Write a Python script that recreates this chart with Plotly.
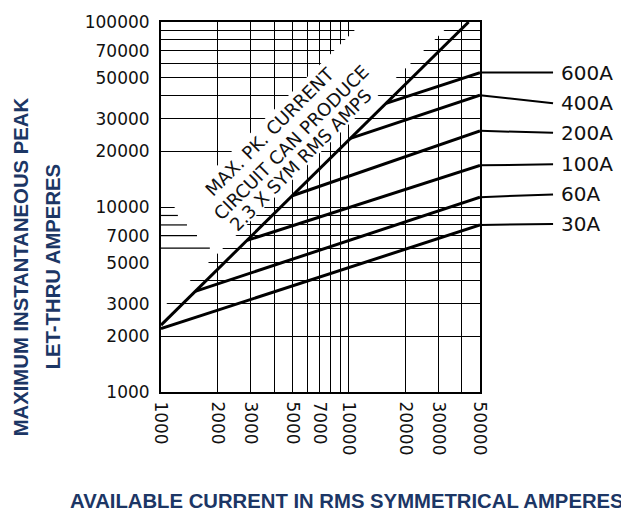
import math
import plotly.graph_objects as go

# grid / tick values (log axes)
x_grid = [1000, 2000, 3000, 4000, 5000, 6000, 7000, 8000, 9000, 10000, 20000, 30000, 40000, 50000]
x_shown = [1000, 2000, 3000, 5000, 7000, 10000, 20000, 30000, 50000]
y_grid = [1000, 2000, 3000, 4000, 5000, 6000, 7000, 8000, 9000, 10000,
          20000, 30000, 40000, 50000, 60000, 70000, 80000, 90000, 100000]
y_shown = [1000, 2000, 3000, 5000, 7000, 10000, 20000, 30000, 50000, 70000, 100000]

# max peak line (2.3 x sym rms)
max_x = [1000, 43500]
max_y = [2300, 100000]

# let-thru curves: knee on the max line -> value at 50000 A
ratings = ["30A", "60A", "100A", "200A", "400A", "600A"]
knee_x = [1000, 1520, 2870, 5000, 10200, 15800]
knee_y = [2200, 3500, 6600, 11500, 23500, 36300]
end_x = 50000
end_y = [8000, 11300, 16800, 25800, 40200, 53300]
label_y = [8100, 11700, 17000, 25200, 36400, 53300]

# short grid stubs left inside the blank band
stub_y = [9000, 8000, 7000, 6000]
stub_x = [1230, 1375, 1555, 1820]

NAVY = "#1c3665"
TICKFONT = dict(family="DejaVu Sans", size=17, color="#111")
TITLEFONT = dict(family="Liberation Sans", size=20.3, color=NAVY, weight="bold")

fig = go.Figure()

# white band behind the diagonal note
hi, lo = 8.4, 2.8
band_x = [1000, 100000 / hi, 100000 / lo, 1000, 1000]
band_y = [1000 * hi, 100000, 100000, 1000 * lo, 1000 * hi]
fig.add_trace(go.Scatter(x=band_x, y=band_y, mode="lines", fill="toself",
                         fillcolor="white", line=dict(width=0), hoverinfo="skip"))

for sx, sy in zip(stub_x, stub_y):
    fig.add_trace(go.Scatter(x=[1000, sx], y=[sy, sy], mode="lines",
                             line=dict(color="black", width=1.2), hoverinfo="skip"))

fig.add_trace(go.Scatter(x=max_x, y=max_y, mode="lines",
                         line=dict(color="black", width=3), name="max"))

for name, kx, ky, ey in zip(ratings, knee_x, knee_y, end_y):
    fig.add_trace(go.Scatter(x=[kx, end_x], y=[ky, ey], mode="lines",
                             line=dict(color="black", width=3), name=name))

# leaders + labels on the right (y2 is a hidden linear copy of the log axis)
shapes = []
annotations = []
for name, ey, ly in zip(ratings, end_y, label_y):
    shapes.append(dict(type="line", xref="paper", yref="y2",
                       x0=1.0, x1=1.229, y0=math.log10(ey), y1=math.log10(ly),
                       line=dict(color="black", width=2)))
    annotations.append(dict(xref="paper", yref="y2", x=1.248, y=math.log10(ly),
                            text=name, showarrow=False, xanchor="left", yanchor="middle",
                            font=dict(family="DejaVu Sans", size=20, color="#111")))

# diagonal note
note = ["MAX. PK. CURRENT", "CIRCUIT CAN PRODUCE", "2.3 X SYM RMS AMPS"]
note_px = [(269.5, 128.5), (291, 139.5), (300, 158)]
for txt, (px, py) in zip(note, note_px):
    annotations.append(dict(xref="paper", yref="paper",
                            x=(px - 161) / 319, y=(392 - py) / 374,
                            xanchor="center", yanchor="middle",
                            text=txt, showarrow=False, textangle=-45,
                            font=dict(family="DejaVu Sans", size=18, color="#111")))

# axis titles
annotations.append(dict(xref="paper", yref="paper", x=(68 - 161) / 319, y=(392 - 502) / 374,
                        xanchor="left", yanchor="middle", showarrow=False,
                        text="AVAILABLE CURRENT IN RMS SYMMETRICAL AMPERES", font=TITLEFONT))
annotations.append(dict(xref="paper", yref="paper", x=(21 - 161) / 319, y=(392 - 266) / 374,
                        xanchor="center", yanchor="middle", showarrow=False, textangle=-90,
                        text="MAXIMUM INSTANTANEOUS PEAK", font=TITLEFONT))
annotations.append(dict(xref="paper", yref="paper", x=(53 - 161) / 319, y=(392 - 266) / 374,
                        xanchor="center", yanchor="middle", showarrow=False, textangle=-90,
                        text="LET-THRU AMPERES", font=TITLEFONT))

fig.update_layout(
    width=621, height=515,
    margin=dict(l=161, r=141, t=18, b=123),
    paper_bgcolor="white", plot_bgcolor="white",
    showlegend=False,
    shapes=shapes,
    annotations=annotations,
    yaxis2=dict(overlaying="y", range=[3, 5], visible=False),
)
fig.update_xaxes(
    type="log", range=[3, math.log10(50000)],
    tickvals=x_grid,
    ticktext=[str(v) if v in x_shown else "" for v in x_grid],
    tickangle=90, tickfont=TICKFONT, ticks="", ticklabelstandoff=4,
    showgrid=True, gridcolor="black", gridwidth=1.2,
    showline=True, linecolor="black", linewidth=2, mirror=True, zeroline=False,
)
fig.layout.yaxis.update(
    type="log", range=[3, 5],
    tickvals=y_grid,
    ticktext=[str(v) if v in y_shown else "" for v in y_grid],
    tickfont=TICKFONT, ticks="", ticklabelstandoff=6,
    showgrid=True, gridcolor="black", gridwidth=1.2,
    showline=True, linecolor="black", linewidth=2, mirror=True, zeroline=False,
)

fig.write_html("out.html", config={"displayModeBar": False},
               post_script="document.body.style.margin='0';")
